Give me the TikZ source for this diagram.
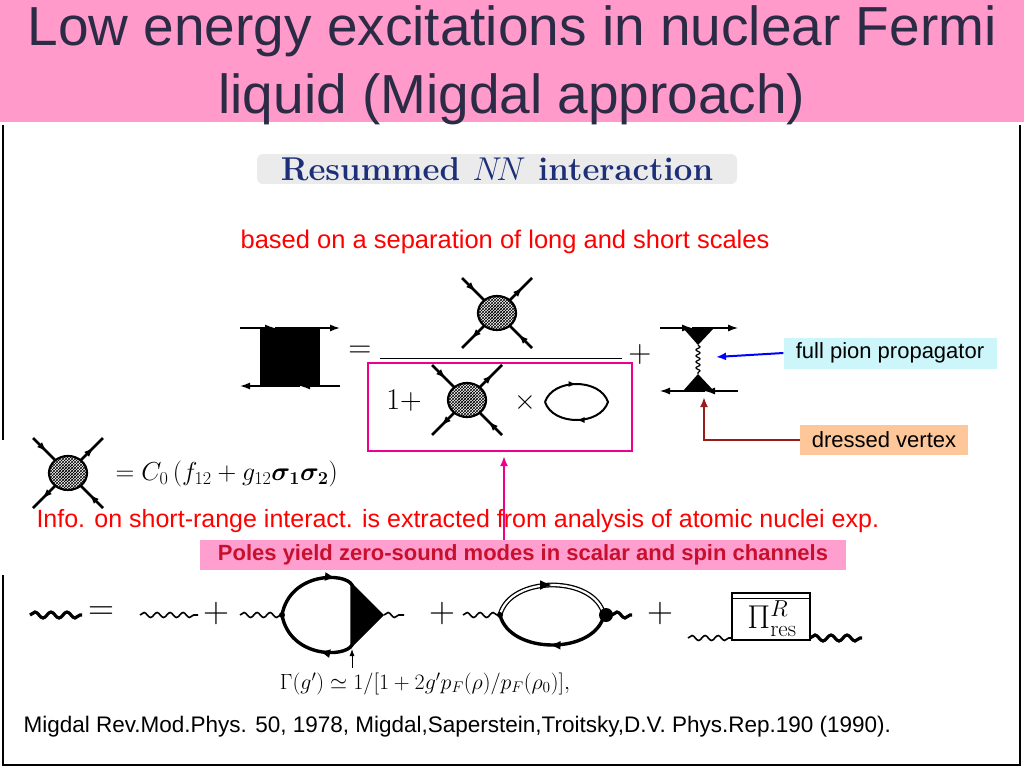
\RequirePackage{fix-cm}
\documentclass[tikz,border=0pt]{standalone}
\usepackage{amsmath}
\usepackage{fontspec}
\newfontfamily\arial{Liberation Sans}
\usetikzlibrary{patterns,decorations.pathmorphing,decorations.markings,arrows.meta}
\definecolor{titlepink}{HTML}{FF9ACB}
\definecolor{titleink}{HTML}{2B2B45}
\definecolor{boxpink}{HTML}{FF9FCF}
\definecolor{polesink}{HTML}{C8102E}
\definecolor{pionbox}{HTML}{CCF6FA}
\definecolor{vertbox}{HTML}{FDC79A}
\definecolor{darkred}{HTML}{9B1B1B}
\definecolor{resink}{HTML}{1E2F7A}
\tikzset{
  fsz/.style={font=\fontsize{#1}{#1}\selectfont},
  tip/.style={-{Latex[length=10pt,width=7pt]}},
  leg/.style={line width=2.6pt,postaction={decorate},
    decoration={markings,mark=at position 0.6 with {\arrow{Latex[length=10pt,width=7pt]}}}},
  wig/.style={decorate,decoration={snake,amplitude=2.5pt,segment length=13pt},line width=1.6pt},
  bigwig/.style={decorate,decoration={snake,amplitude=3pt,segment length=16pt},line width=3.2pt},
  blob/.pic={
    \draw[leg] (-35,-35) -- (-12,-12);
    \draw[leg] (35,35) -- (12,12);
    \draw[leg] (12,-12) -- (35,-35);
    \draw[leg] (-12,12) -- (-35,35);
    \fill[white] (0,0) ellipse (19 and 17);
    \fill[pattern=crosshatch] (0,0) ellipse (19 and 17);
    \fill[pattern=north east lines] (0,0) ellipse (10 and 9);
    \draw[line width=2.2pt] (0,0) ellipse (19 and 17);
  }
}
\begin{document}
\begin{tikzpicture}[x=1pt,y=-1pt]
  \useasboundingbox (0,0) rectangle (1024,768);
  \fill[white] (0,0) rectangle (1024,768);
  % title bar
  \fill[titlepink] (0,0) rectangle (1024,122);
  \node[titleink,fsz=55,align=center] (title) at (512,65)
    {\arial Low energy excitations in nuclear Fermi\\[13pt]\arial liquid (Migdal approach)};
  % frame lines
  \draw[line width=2pt] (3,125) -- (3,440);
  \draw[line width=2pt] (3,575) -- (3,765) -- (1020,765) -- (1020,125);

  \node[fill=black!8,rounded corners=6pt,minimum width=480pt,minimum height=28pt,
        text=resink,fsz=33] (resum) at (497,169) {\textbf{Resummed $N\!N$ interaction}};
  \node[red,fsz=25.5] (scales) at (505,242) {\arial based on a separation of long and short scales};

  % resummed amplitude
  \fill (260,328) rectangle (320,386);
  \draw[line width=1.4pt,tip] (240,328) -- (275,328);
  \draw[line width=1.4pt,tip] (275,328) -- (340,328);
  \draw[line width=1.4pt,tip] (300,386) -- (240,386);
  \draw[line width=1.4pt,tip] (340,386) -- (300,386);
  \node[fsz=32] (eqa) at (360,352) {$=$};
  \draw[line width=1pt] (380,358) -- (622,358);
  \node[fsz=32] (plusa) at (640,354) {$+$};
  \pic at (497,313) {blob};
  \draw[magenta,line width=2.4pt] (368,363) rectangle (632,451);
  \node[fsz=30] (onep) at (404,401) {$1+$};
  \pic at (467,400) {blob};
  \node[fsz=28] (times) at (525,402) {$\times$};
  \draw[line width=2pt,postaction={decorate},decoration={markings,
      mark=at position 0.25 with {\arrow{Latex[length=8pt,width=6pt]}},
      mark=at position 0.75 with {\arrow{Latex[length=8pt,width=6pt]}}}]
    (545,402) .. controls (553,378) and (600,378) .. (608,402)
    .. controls (600,426) and (553,426) .. (545,402);

  % pion exchange
  \draw[line width=1.2pt,tip] (660,328) -- (692,328);
  \draw[line width=1.2pt,tip] (692,328) -- (738,328);
  \draw[line width=1.2pt,tip] (705,391) -- (660,391);
  \draw[line width=1.2pt,tip] (738,391) -- (705,391);
  \fill (683,328) -- (714,328) -- (698,345) -- cycle;
  \fill (683,391) -- (714,391) -- (698,374) -- cycle;
  \draw[decorate,decoration={snake,amplitude=2pt,segment length=6pt},line width=1.2pt] (698,345) -- (698,374);
  \coordinate (pionend) at (716,357);
  \coordinate (vertend) at (704,397);
  \node[fill=pionbox,minimum width=213pt,minimum height=31pt,fsz=22] (pion) at (890,353) {\arial full pion propagator};
  \node[fill=vertbox,minimum width=168pt,minimum height=30pt,fsz=22] (vert) at (884,440) {\arial dressed vertex};
  \draw[blue,line width=2pt,-{Latex[length=10pt,width=8pt]}] (pion.west) -- (pionend);
  \draw[darkred,line width=2pt,-{Latex[length=10pt,width=8pt]}] (vert.west) -| (vertend);

  % contact interaction
  \pic at (68,473) {blob};
  \node[fsz=26,anchor=west] (contact) at (112,474)
    {$=C_0\,(f_{12}+g_{12}\boldsymbol{\sigma_1}\boldsymbol{\sigma_2})$};
  \coordinate (polestop) at (504,456);
  \node[red,fsz=25,anchor=west] (info) at (33,521)
    {\arial Info. on short-range interact. is extracted from analysis of atomic nuclei exp.};
  \draw[magenta,line width=2pt,-{Latex[length=10pt,width=8pt]}] (504,540) -- (polestop);
  \node[fill=boxpink,minimum width=646pt,minimum height=30pt,text=polesink,fsz=22] (poles) at (523,555)
    {\arial\bfseries Poles yield zero-sound modes in scalar and spin channels};

  % polarization operator
  \draw[bigwig] (30,615) -- (82,615);
  \node[fsz=36] (eqb) at (101,613) {$=$};
  \draw[wig] (140,615) -- (198,615);
  \node[fsz=36] (plusb) at (216,613) {$+$};
  \draw[wig] (240,615) -- (282,615);
  \draw[line width=3.4pt,postaction={decorate},decoration={markings,
      mark=at position 0.3 with {\arrow{Latex[length=11pt,width=9pt]}},
      mark=at position 0.77 with {\arrow{Latex[length=11pt,width=9pt]}}}]
    (282,615) .. controls (290,572) and (345,572) .. (352,585)
    -- (352,645) .. controls (345,658) and (290,658) .. (282,615);
  \fill (282,615) circle (3);
  \fill (352,583) -- (384,615) -- (352,647) -- cycle;
  \draw[wig] (384,615) -- (404,615);
  \coordinate (gammatop) at (352,649);
  \node[fsz=22] (gamma) at (425,684) {$\Gamma(g')\simeq 1/[1+2g'p_F(\rho)/p_F(\rho_0)],$};
  \draw[line width=0.8pt,-{Latex[length=7pt,width=5pt]}] (352,668) -- (gammatop);
  \node[fsz=36] (plusc) at (442,613) {$+$};
  \draw[wig] (463,615) -- (500,615);
  \draw[line width=1.3pt,double,double distance=2.2pt,postaction={decorate},decoration={markings,
      mark=at position 0.5 with {\arrow{Latex[length=12pt,width=10pt]}}}]
    (500,615) .. controls (510,575) and (595,575) .. (604,615);
  \draw[line width=3.4pt,postaction={decorate},decoration={markings,
      mark=at position 0.52 with {\arrow{Latex[length=11pt,width=9pt]}}}]
    (604,615) .. controls (595,655) and (510,655) .. (500,615);
  \fill (500,615) circle (3);
  \fill (606,615) circle (7);
  \draw[bigwig] (612,615) -- (632,615);
  \node[fsz=36] (plusd) at (660,613) {$+$};
  \draw[wig] (688,638) -- (732,638);
  \draw[line width=1.2pt] (732,593) rectangle (810,640);
  \draw[line width=1pt] (732,598) -- (810,598);
  \node[fsz=33,inner sep=0pt] (pires) at (772,619) {$\Pi^R_{\mathrm{res}}$};
  \draw[bigwig] (810,638) -- (862,638);

  \node[fsz=22.5,anchor=west] (cite) at (20,727)
    {\arial Migdal Rev.Mod.Phys. 50, 1978, Migdal,Saperstein,Troitsky,D.V. Phys.Rep.190 (1990).};
\end{tikzpicture}
\end{document}
